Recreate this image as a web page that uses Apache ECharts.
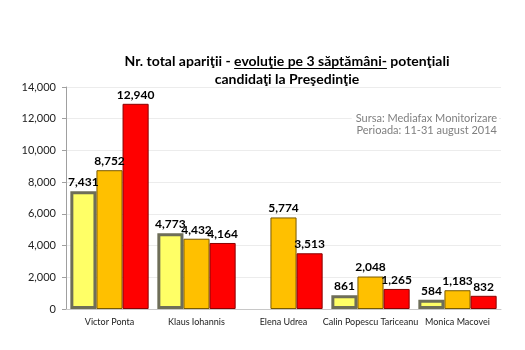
<!DOCTYPE html>
<html><head><meta charset="utf-8">
<script src="https://cdn.jsdelivr.net/npm/echarts@6/dist/echarts.min.js"></script>
<style>html,body{margin:0;padding:0;background:#fff}#c{width:525px;height:350px}</style>
</head><body><div id="c"></div>
<script>
const categories = ['Victor Ponta', 'Klaus Iohannis', 'Elena Udrea', 'Calin Popescu Tariceanu', 'Monica Macovei'];
const week1 = [7431, 4773, null, 861, 584];
const week2 = [8752, 4432, 5774, 2048, 1183];
const week3 = [12940, 4164, 3513, 1265, 832];
const yTicks = [0, 2000, 4000, 6000, 8000, 10000, 12000, 14000];

const chart = echarts.init(document.getElementById('c'));
const fmt = v => v.toLocaleString('en-US');
const FONT = 'Lato, "Liberation Sans", sans-serif';
const TITLE_SIZE = 14;
const TITLE_X = 287;
const label = {show: true, position: 'top', formatter: p => fmt(p.value), fontWeight: 'bold', fontSize: 12, color: '#000', fontFamily: FONT, distance: 3};
const full = 'Nr. total apariţii - evoluţie pe 3 săptămâni- potenţiali';
const pre = 'Nr. total apariţii - ';
const und = 'evoluţie pe 3 săptămâni-';
const sourceText = {type: 'text', id: 'src', right: 26, top: 110, z: 10, style: {text: 'Sursa: Mediafax Monitorizare\nPerioada: 11-31 august 2014', fill: '#7f7f7f', font: '11px ' + FONT, textAlign: 'right', lineHeight: 12, backgroundColor: '#fff', padding: [2, 2, 2, 4]}};

chart.setOption({
  animation: false,
  grid: {left: 66, right: 24, top: 87, bottom: 41},
  title: {
    text: full + '\ncandidaţi la Preşedinţie',
    left: TITLE_X, top: 52, textAlign: 'center', padding: 0,
    textStyle: {fontSize: TITLE_SIZE, fontWeight: 'bold', color: '#000', fontFamily: FONT, lineHeight: 18, align: 'center'}
  },
  graphic: [sourceText],
  xAxis: {
    type: 'category', data: categories,
    axisLine: {lineStyle: {color: '#c8c8c8'}}, axisTick: {show: false},
    axisLabel: {fontSize: 9, color: '#222', fontFamily: FONT, margin: 9, interval: 0}
  },
  yAxis: {
    type: 'value', min: 0, max: 14000, interval: 2000,
    axisLine: {show: true, lineStyle: {color: '#a0a0a0'}},
    axisTick: {show: true, length: 4, lineStyle: {color: '#a0a0a0'}},
    splitLine: {lineStyle: {color: '#ececec'}},
    axisLabel: {fontSize: 11, color: '#222', fontFamily: FONT, margin: 10, formatter: v => fmt(v)}
  },
  series: [
    {name: 'Săptămâna 1', type: 'bar', data: week1, barGap: '0%', barCategoryGap: '10%',
     itemStyle: {color: '#ffff66', borderColor: '#6e6e58', borderWidth: 3}, label},
    {name: 'Săptămâna 2', type: 'bar', data: week2,
     itemStyle: {color: '#ffc000', borderColor: '#7a5a00', borderWidth: 1}, label},
    {name: 'Săptămâna 3', type: 'bar', data: week3,
     itemStyle: {color: '#ff0000', borderColor: '#8a0000', borderWidth: 1}, label}
  ]
});

function addUnderline() {
  const f = 'bold ' + TITLE_SIZE + 'px ' + FONT;
  const m = s => new echarts.graphic.Text({style: {text: s, font: f}}).getBoundingRect().width;
  const w = m(full);
  const x0 = TITLE_X - w / 2 + m(pre);
  const x1 = x0 + m(und);
  chart.setOption({graphic: [sourceText,
    {type: 'line', id: 'ul', shape: {x1: x0, y1: 68.5, x2: x1, y2: 68.5}, style: {stroke: '#000', lineWidth: 1}}]});
}
if (document.fonts && document.fonts.load) {
  document.fonts.load('bold 14px Lato').then(addUnderline, addUnderline);
} else { addUnderline(); }
</script></body></html>
